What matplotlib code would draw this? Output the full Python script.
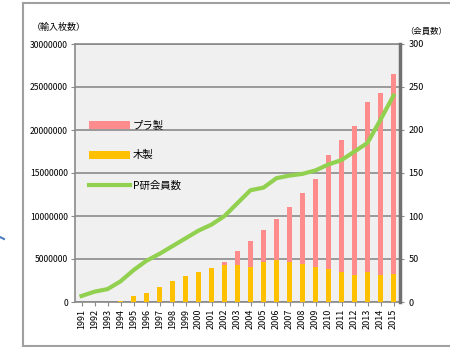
import matplotlib.pyplot as plt
import matplotlib.lines as mlines
import numpy as np

plt.rcParams['font.family'] = ['Noto Sans CJK JP', 'DejaVu Sans']

years = [str(y) for y in range(1991, 2016)]
# 木製 (wooden) imports, millions of pieces
wood = [0, 0, 0.05, 0.15, 0.65, 1.1, 1.75, 2.4, 3.05, 3.5, 3.9, 4.3, 4.3,
        4.1, 4.6, 4.9, 4.7, 4.4, 4.1, 3.8, 3.45, 3.1, 3.45, 3.1, 3.25]
# total imports (wood + plastic), millions
total = [0, 0, 0.05, 0.15, 0.65, 1.1, 1.75, 2.4, 3.05, 3.5, 4.0, 4.6, 5.9,
         7.1, 8.4, 9.6, 11.0, 12.7, 14.3, 17.1, 18.8, 20.5, 23.3, 24.3, 26.5]
# P研会員数
members = [7, 12, 15, 24, 37, 48, 56, 65, 74, 83, 90, 100, 115, 130, 133,
           144, 147, 149, 153, 160, 165, 175, 185, 212, 240]

wood_n = np.array(wood) * 1e6
plastic_n = (np.array(total) - np.array(wood)) * 1e6

fig = plt.figure(figsize=(4.5, 3.47), dpi=100)

# outer frame of the screenshot
fig.add_artist(mlines.Line2D([23/450, 23/450], [1/347, 344/347], color='#a0a0a0', lw=1.5))
fig.add_artist(mlines.Line2D([23/450, 1], [344/347, 344/347], color='#a0a0a0', lw=1.5))
fig.add_artist(mlines.Line2D([23/450, 1], [1.5/347, 1.5/347], color='#a0a0a0', lw=1.5))
fig.add_artist(mlines.Line2D([0, 4/450], [110/347, 108/347], color='#4a7fc0', lw=1.5))

ax = fig.add_axes([75/450, 45/347, 325/450, 258/347])
ax.set_facecolor('#f0f0f0')
x = np.arange(len(years))
ax.bar(x, wood_n, width=0.4, color='#ffc000', label='木製', zorder=3)
ax.bar(x, plastic_n, width=0.4, bottom=wood_n, color='#ff8c8c', label='プラ製', zorder=3)
ax.set_ylim(0, 30000000)
ax.set_xlim(-0.5, len(years) - 0.5)
ax.set_yticks(range(0, 30000001, 5000000))
ax.set_yticklabels([str(v) for v in range(0, 30000001, 5000000)], fontsize=6.2)
ax.set_xticks(x)
ax.set_xticklabels(years, rotation=90, fontsize=6.5)
ax.grid(axis='y', color='#8a8a8a', lw=1.2, zorder=1)
ax.tick_params(axis='both', length=3, color='#8a8a8a', pad=2)
for s in ['left', 'bottom', 'top']:
    ax.spines[s].set_color('#8a8a8a')
    ax.spines[s].set_linewidth(1.2)

ax2 = ax.twinx()
line, = ax2.plot(x, members, color='#92d050', lw=3, label='P研会員数', zorder=4)
ax2.set_ylim(0, 300)
ax2.set_yticks(range(0, 301, 50))
ax2.set_yticklabels([str(v) for v in range(0, 301, 50)], fontsize=6.5)
ax2.tick_params(axis='y', length=3, color='#8a8a8a', pad=3)
ax2.spines['right'].set_color('#707070')
ax2.spines['right'].set_linewidth(2.5)
for s in ['left', 'bottom', 'top']:
    ax2.spines[s].set_visible(False)

h1, l1 = ax.get_legend_handles_labels()
ax2.legend([h1[1], h1[0], line], [l1[1], l1[0], 'P研会員数'],
           loc='upper left', bbox_to_anchor=(0.015, 0.74), frameon=False,
           fontsize=7.5, handlelength=3.9, handleheight=0.75, labelspacing=1.9,
           handletextpad=0.3)

fig.text(32/450, 1 - 27/347, '（輸入枚数）', fontsize=6.5, va='center', ha='left')
fig.text(405/450, 1 - 31/347, '（会員数）', fontsize=6, va='center', ha='left')

fig.savefig('out.png', dpi=100)
